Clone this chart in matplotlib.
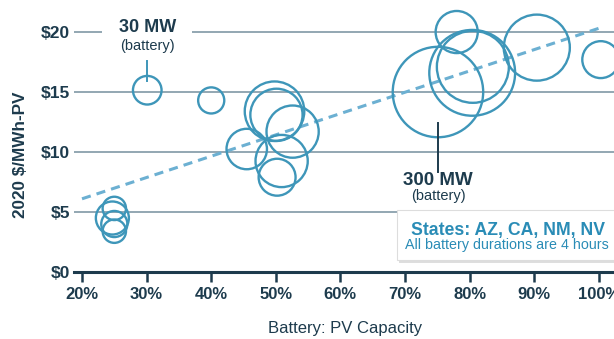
import numpy as np
import matplotlib.pyplot as plt
import matplotlib.patches as patches

plt.rcParams['font.family'] = ['Liberation Sans', 'DejaVu Sans']

# battery:PV ratio (%), cost (2020 $/MWh-PV), battery size (MW)
ratio = [30.1, 40.0, 49.8, 50.1, 52.6, 45.5, 50.9, 50.2,
         25.0, 24.7, 25.0, 25.0,
         75.1, 80.4, 80.5, 78.0, 90.4, 100.3]
cost = [15.15, 14.3, 13.4, 13.1, 11.7, 10.25, 9.25, 7.9,
        5.3, 4.5, 4.0, 3.4,
        15.0, 16.6, 17.1, 20.0, 18.7, 17.7]
battery_mw = [30, 25, 130, 100, 100, 60, 100, 50,
              20, 40, 25, 20,
              300, 270, 190, 65, 160, 50]

trend_x = [20, 100.5]
trend_y = [6.1, 20.4]

x_ticks = [20, 30, 40, 50, 60, 70, 80, 90, 100]
x_labels = ['20%', '30%', '40%', '50%', '60%', '70%', '80%', '90%', '100%']
y_ticks = [0, 5, 10, 15, 20]
y_labels = ['$0', '$5', '$10', '$15', '$20']

navy = '#1d3b4d'
ring = '#3e96b9'
dash = '#6cb0d2'
grid = '#8aa0ac'
legend_blue = '#2a8cb6'

fig = plt.figure(figsize=(6.14, 3.39), dpi=100)
ax = fig.add_axes([74 / 614, 67 / 339, 540 / 614, 272 / 339])

ax.set_xlim(18.76, 102.35)
ax.set_ylim(0, 22.67)

# 像素半径 -> scatter 面积
r_px = 14.3 * np.sqrt(np.array(battery_mw) / 30.0)
sizes = (2 * r_px * 0.72) ** 2
ax.scatter(ratio, cost, s=sizes, facecolors='none', edgecolors=ring,
           linewidths=1.7, zorder=3, clip_on=True)

ax.plot(trend_x, trend_y, color=dash, lw=2.2, dashes=(3, 2), zorder=2)

for yv in y_ticks[1:]:
    ax.axhline(yv, color=grid, lw=1.3, zorder=0)

for s in ['top', 'right', 'left']:
    ax.spines[s].set_visible(False)
ax.spines['bottom'].set_color(navy)
ax.spines['bottom'].set_linewidth(2.2)
ax.spines['bottom'].set_zorder(4)

ax.set_xticks(x_ticks)
ax.set_xticklabels(x_labels, fontsize=12, fontweight='bold', color=navy)
ax.set_yticks(y_ticks)
ax.set_yticklabels(y_labels, fontsize=12.5, fontweight='bold', color=navy)
ax.tick_params(axis='x', direction='out', length=7, width=1.8, color=navy, pad=4)
ax.tick_params(axis='y', length=0, pad=3)

fig.text(345 / 614, 1 - 328 / 339, 'Battery: PV Capacity', ha='center', va='center',
         fontsize=12, color=navy)
fig.text(21 / 614, 1 - 154.5 / 339, '2020 $/MWh-PV', ha='center', va='center',
         rotation=90, fontsize=12.3, fontweight='bold', color=navy)

# 30 MW annotation
ax.add_patch(patches.Rectangle((23.1, 19.5), 13.9, 1.2, fc='white', ec='none', zorder=1))
ax.text(30.1, 20.35, '30 MW', ha='center', va='center', fontsize=13,
        fontweight='bold', color=navy, zorder=5)
ax.text(30.1, 18.85, '(battery)', ha='center', va='center', fontsize=10.5,
        color=navy, zorder=5)
ax.plot([30.1, 30.1], [15.9, 17.6], color=ring, lw=1.4, zorder=4)

# 300 MW annotation
ax.plot([75.1, 75.1], [8.3, 12.4], color=navy, lw=1.4, zorder=4)
ax.text(75.1, 7.6, '300 MW', ha='center', va='center', fontsize=13.5,
        fontweight='bold', color=navy, zorder=5)
ax.text(75.1, 6.3, '(battery)', ha='center', va='center', fontsize=10.5,
        color=navy, zorder=5)

# legend box with shadow
shadow = patches.Rectangle((399 / 614, 1 - 263 / 339), 230 / 614, 50 / 339,
                           transform=fig.transFigure, fc='#c8c8c8', ec='none',
                           alpha=0.6, zorder=5)
box = patches.Rectangle((397 / 614, 1 - 260 / 339), 230 / 614, 50 / 339,
                        transform=fig.transFigure, fc='white', ec='#dddddd',
                        lw=0.8, zorder=6)
fig.add_artist(shadow)
fig.add_artist(box)
fig.text(508 / 614, 1 - 230 / 339, 'States: AZ, CA, NM, NV', ha='center', va='center',
         fontsize=12.7, fontweight='bold', color=legend_blue, zorder=7)
fig.text(507 / 614, 1 - 245.5 / 339, 'All battery durations are 4 hours', ha='center',
         va='center', fontsize=10.3, color=legend_blue, zorder=7)

plt.savefig('out.png', dpi=100)
